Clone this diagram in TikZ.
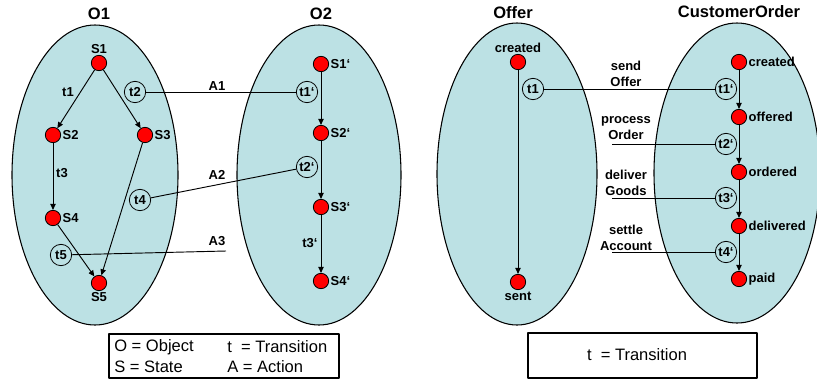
\documentclass[tikz,border=0pt]{standalone}
\usepackage{fontspec}
\setmainfont{Liberation Sans}
\usetikzlibrary{arrows.meta}
\definecolor{objfill}{RGB}{188,225,228}
\definecolor{statered}{RGB}{255,0,0}
\tikzset{
  obj/.style={draw, fill=objfill, line width=0.8pt},
  state/.style={circle, draw, fill=statered, minimum size=11.5pt, inner sep=0pt, line width=0.6pt},
  trans/.style={circle, draw, minimum size=16pt, inner sep=0pt, line width=0.6pt, font=\bfseries\fontsize{9.75}{12}\selectfont},
  lbl/.style={font=\bfseries\fontsize{9.75}{12}\selectfont, inner sep=1pt},
  title/.style={font=\bfseries\fontsize{12.4}{14}\selectfont},
  flow/.style={-{Triangle[length=4.5pt,width=4pt]}, line width=0.7pt},
  act/.style={line width=0.7pt},
  legend/.style={font=\fontsize{12.4}{15}\selectfont, inner sep=0pt}
}
\begin{document}
\begin{tikzpicture}[x=0.75pt, y=-0.75pt, line join=round]
\useasboundingbox (0,0) rectangle (817,379);
% objects
\path[obj] (95,175) ellipse [x radius=83, y radius=150]
  (319,175) ellipse [x radius=82, y radius=150]
  (517,174) ellipse [x radius=80, y radius=151]
  (737,173) ellipse [x radius=83, y radius=150];
\node[title] (o1) at (99,14) {O1};
\node[title] (o2) at (321,14) {O2};
\node[title] (offer) at (513,13) {Offer};
\node[title] (cord) at (739,12) {CustomerOrder};
% O1
\node[state, label={[lbl]above:S1}] (s1) at (99,63) {};
\node[state, label={[lbl]right:S2}] (s2) at (53,135) {};
\node[state, label={[lbl]right:S3}] (s3) at (145,135) {};
\node[state, label={[lbl]right:S4}] (s4) at (53,218) {};
\node[state, label={[lbl]below:S5}] (s5) at (99,283) {};
\node[lbl] (l1) at (68,92) {t1};
\node[lbl] (l3) at (62,173) {t3};
\node[trans] (t2) at (135,92) {t2};
\node[trans] (t4) at (140,200) {t4};
\node[trans] (t5) at (61,255) {t5};
\draw[flow] (s1) -- (s2);
\draw[flow] (s1) -- (s3);
\draw[flow] (s2) -- (s4);
\draw[flow] (s3) -- (s5);
\draw[flow] (s4) -- (s5);
% O2
\node[state, label={[lbl]right:S1‘}] (r1) at (321,64) {};
\node[state, label={[lbl]right:S2‘}] (r2) at (321,133) {};
\node[state, label={[lbl]right:S3‘}] (r3) at (321,207) {};
\node[state, label={[lbl]right:S4‘}] (r4) at (321,281) {};
\node[trans] (t1b) at (307,92) {t1‘};
\node[trans] (t2b) at (307,167) {t2‘};
\node[lbl] (l3b) at (310,243) {t3‘};
\draw[flow] (r1) -- (r2);
\draw[flow] (r2) -- (r3);
\draw[flow] (r3) -- (r4);
% actions
\coordinate (a3end) at (226,251);
\draw[act] (t2) -- (t1b);
\draw[act] (t4) -- (t2b);
\draw[act] (t5) -- (a3end);
\node[lbl] (a1) at (217,86) {A1};
\node[lbl] (a2) at (217,175) {A2};
\node[lbl] (a3) at (217,241) {A3};
% legend
\node[draw, line width=0.9pt, minimum width=172.5pt, minimum height=33pt, inner sep=0pt] (leg1) at (224,356) {};
\node[legend, anchor=west] at (114,347) {O = Object};
\node[legend, anchor=west] at (114,367) {S = State};
\node[legend, anchor=west] at (227,347) {t\ \ = Transition};
\node[legend, anchor=west] at (227,367) {A = Action};
% Offer
\node[state, label={[lbl]above:created}] (c1) at (518,62) {};
\node[state, label={[lbl]below:sent}] (c2) at (518,282) {};
\node[trans] (u1) at (533,89) {t1};
\draw[flow] (c1) -- (c2);
% CustomerOrder
\node[state, label={[lbl]right:created}] (k1) at (739,62) {};
\node[state, label={[lbl]right:offered}] (k2) at (739,117) {};
\node[state, label={[lbl]right:ordered}] (k3) at (739,172) {};
\node[state, label={[lbl]right:delivered}] (k4) at (739,226) {};
\node[state, label={[lbl]right:paid}] (k5) at (739,279) {};
\node[trans] (u1b) at (726,89) {t1‘};
\node[trans] (u2b) at (726,144) {t2‘};
\node[trans] (u3b) at (726,198) {t3‘};
\node[trans] (u4b) at (726,252) {t4‘};
\foreach \i/\j in {k1/k2,k2/k3,k3/k4,k4/k5}
  \draw[flow] (\i) -- (\j);
\coordinate (p2) at (612,144);
\coordinate (p3) at (612,198);
\coordinate (p4) at (612,252);
\draw[act] (u1) -- (u1b);
\draw[act] (p2) -- (u2b);
\draw[act] (p3) -- (u3b);
\draw[act] (p4) -- (u4b);
\node[lbl, align=center] (send) at (626,74) {send\\Offer};
\node[lbl, align=center] (proc) at (626,128.5) {process\\Order};
\node[lbl, align=center] (deli) at (626,183) {deliver\\Goods};
\node[lbl, align=center] (sett) at (626,237.5) {settle\\Account};
\node[draw, line width=0.9pt, minimum width=171.75pt, minimum height=33.75pt, inner sep=0pt] (leg2) at (642.5,355.5) {};
\node[legend] at (637,355) {t\ \ = Transition};
\end{tikzpicture}
\end{document}
